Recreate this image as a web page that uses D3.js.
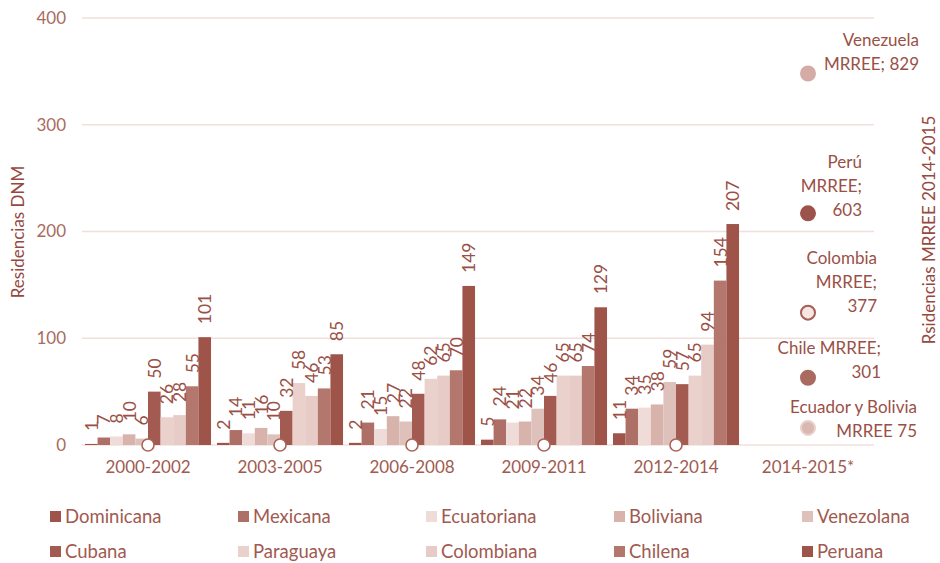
<!DOCTYPE html>
<html>
<head>
<meta charset="utf-8">
<script src="https://cdn.jsdelivr.net/npm/d3@7"></script>
<style>
  body { margin: 0; background: #fff; }
  svg { font-family: Lato, "Open Sans", sans-serif; }
</style>
</head>
<body>
<svg id="chart" width="940" height="563"></svg>
<script>
// periods on the x axis
const periods = ['2000-2002', '2003-2005', '2006-2008', '2009-2011', '2012-2014', '2014-2015*'];
const nationalities = ['Dominicana', 'Mexicana', 'Ecuatoriana', 'Boliviana', 'Venezolana',
                       'Cubana', 'Paraguaya', 'Colombiana', 'Chilena', 'Peruana'];

// residencias DNM per nationality, one value per period (last period has no bars)
const dominicana  = [1, 2, 2, 5, 11];
const mexicana    = [7, 14, 21, 24, 34];
const ecuatoriana = [8, 11, 15, 21, 35];
const boliviana   = [10, 16, 27, 22, 38];
const venezolana  = [6, 10, 22, 34, 59];
const cubana      = [50, 32, 48, 46, 57];
const paraguaya   = [26, 58, 62, 65, 65];
const colombiana  = [28, 46, 65, 65, 94];
const chilena     = [55, 53, 70, 74, 154];
const peruana     = [101, 85, 149, 129, 207];
const seriesValues = [dominicana, mexicana, ecuatoriana, boliviana, venezolana,
                      cubana, paraguaya, colombiana, chilena, peruana];

// MRREE 2014-2015 (secondary series)
const mrreeCountries = ['Venezuela', 'Perú', 'Colombia', 'Chile', 'Ecuador y Bolivia'];
const mrreeValues = [829, 603, 377, 301, 75];
const mrreePlotted = [348, 217, 124, 63, 16];   // where the dot sits, read on the left axis
const mrreeEarlier = [0, 0, 0, 0, 0];           // empty points in the earlier periods

const yTicks = [0, 100, 200, 300, 400];

const colors = ['#9e544b', '#ad6f66', '#efdcd8', '#d8b3ac', '#dfc1bb',
                '#a35b51', '#ead1cc', '#e6cbc6', '#b3776d', '#9f5449'];
const mrreeFill   = ['#d5aca5', '#9c5349', '#f5e6e3', '#aa6a60', '#dab8b2'];
const mrreeStroke = ['#d5aca5', '#9c5349', '#a55f55', '#aa6a60', '#e8d0cb'];
// label wrapping (words per line) and placement relative to the dot
const mrreeLabelLayout = [
  { words: [1, 2],    dx: 111, dy: -33 },
  { words: [1, 1, 1], dx: 54,  dy: -51 },
  { words: [1, 1, 1], dx: 69,  dy: -55 },
  { words: [2, 1],    dx: 73,  dy: -30 },
  { words: [3, 2],    dx: 109, dy: -21 }
];

const svg = d3.select('#chart');
const textColor = '#a05a50';
const labelColor = '#9a5046';

const x0 = d3.scaleBand().domain(periods).range([82, 874]).paddingInner(0.045).paddingOuter(0.0225);
const x1 = d3.scaleBand().domain(nationalities).range([0, x0.bandwidth()]);
const y = d3.scaleLinear().domain([0, 400]).range([445, 18]);

// gridlines
svg.append('g')
  .selectAll('line')
  .data(yTicks)
  .join('line')
  .attr('x1', 82).attr('x2', 874)
  .attr('y1', d => y(d)).attr('y2', d => y(d))
  .attr('stroke', '#f0dfdb')
  .attr('stroke-width', 1.6);

// left axis labels
const yAxis = svg.append('g')
  .attr('transform', 'translate(78,0)')
  .call(d3.axisLeft(y).tickValues(yTicks).tickSize(0).tickPadding(12));
yAxis.select('.domain').remove();
yAxis.selectAll('text')
  .attr('font-size', 17)
  .attr('font-family', 'Lato, sans-serif')
  .attr('fill', '#a86b61');

// bottom axis labels
const xAxis = svg.append('g')
  .attr('transform', 'translate(0,445)')
  .call(d3.axisBottom(x0).tickSize(0).tickPadding(16));
xAxis.select('.domain').remove();
xAxis.selectAll('text')
  .attr('font-size', 17)
  .attr('font-family', 'Lato, sans-serif')
  .attr('fill', textColor);

// bars
const barData = [];
periods.slice(0, 5).forEach((p, pi) => {
  nationalities.forEach((n, ni) => {
    barData.push({ period: p, nat: n, idx: ni, value: seriesValues[ni][pi] });
  });
});

const bars = svg.append('g');
bars.selectAll('rect')
  .data(barData)
  .join('rect')
  .attr('x', d => x0(d.period) + x1(d.nat))
  .attr('y', d => y(d.value))
  .attr('width', x1.bandwidth())
  .attr('height', d => y(0) - y(d.value))
  .attr('fill', d => colors[d.idx]);

// value labels, rotated
bars.selectAll('text')
  .data(barData)
  .join('text')
  .attr('transform', d => `translate(${x0(d.period) + x1(d.nat) + x1.bandwidth() / 2},${y(d.value) - 13}) rotate(-90)`)
  .attr('dominant-baseline', 'central')
  .attr('font-size', 17.5)
  .attr('fill', labelColor)
  .text(d => d.value);

// empty MRREE points in earlier periods
svg.append('g')
  .selectAll('circle')
  .data(mrreeEarlier)
  .join('circle')
  .attr('cx', (d, i) => x0(periods[i]) + x0.bandwidth() / 2)
  .attr('cy', d => y(d))
  .attr('r', 6)
  .attr('fill', '#fff')
  .attr('stroke', '#a8655b')
  .attr('stroke-width', 1.6);

// MRREE 2014-2015 points
const cx = x0(periods[5]) + x0.bandwidth() / 2;
const mrree = svg.append('g');
mrree.selectAll('circle')
  .data(mrreeValues)
  .join('circle')
  .attr('cx', cx)
  .attr('cy', (d, i) => y(mrreePlotted[i]))
  .attr('r', 7)
  .attr('fill', (d, i) => mrreeFill[i])
  .attr('stroke', (d, i) => mrreeStroke[i])
  .attr('stroke-width', 2);

mrreeValues.forEach((v, i) => {
  const sep = i === 4 ? ' ' : '; ';
  const words = `${mrreeCountries[i]} MRREE${sep}${v}`.split(' ');
  const lay = mrreeLabelLayout[i];
  let k = 0;
  const lines = lay.words.map(n => { const l = words.slice(k, k + n).join(' '); k += n; return l; });
  mrree.append('text')
    .attr('x', cx + lay.dx)
    .attr('y', y(mrreePlotted[i]) + lay.dy)
    .attr('text-anchor', 'end')
    .attr('font-size', 17)
    .attr('fill', labelColor)
    .selectAll('tspan')
    .data(lines)
    .join('tspan')
    .attr('x', cx + lay.dx)
    .attr('dy', (d, j) => j === 0 ? '0.35em' : 24)
    .text(d => d);
});

// axis titles
svg.append('text')
  .attr('transform', 'translate(17,232) rotate(-90)')
  .attr('text-anchor', 'middle')
  .attr('dominant-baseline', 'central')
  .attr('font-size', 17)
  .attr('fill', '#96493f')
  .text('Residencias DNM');

svg.append('text')
  .attr('transform', 'translate(928,230) rotate(-90)')
  .attr('text-anchor', 'middle')
  .attr('dominant-baseline', 'central')
  .attr('font-size', 17)
  .attr('fill', '#96493f')
  .text('Rsidencias MRREE 2014-2015');

// legend, 5 per row
const legend = svg.append('g');
const item = legend.selectAll('g')
  .data(nationalities)
  .join('g')
  .attr('transform', (d, i) => `translate(${50 + (i % 5) * 188},${516 + Math.floor(i / 5) * 35})`);
item.append('rect')
  .attr('x', 0).attr('y', -5)
  .attr('width', 11).attr('height', 11)
  .attr('fill', (d, i) => colors[i]);
item.append('text')
  .attr('x', 15)
  .attr('dominant-baseline', 'central')
  .attr('font-size', 18.5)
  .attr('fill', textColor)
  .text(d => d);
</script>
</body>
</html>
